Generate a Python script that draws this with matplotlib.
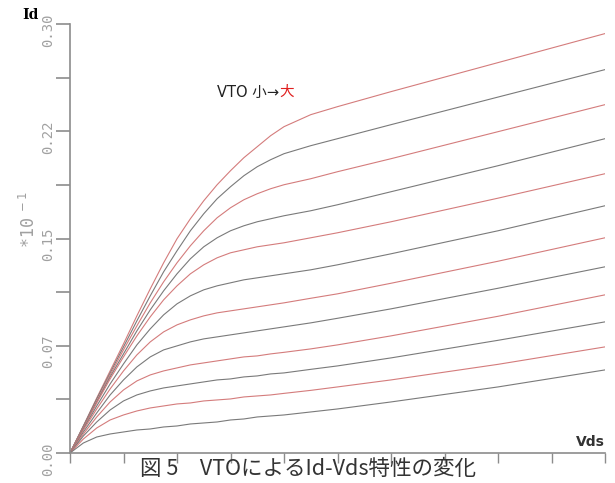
import matplotlib
matplotlib.use("Agg")
import matplotlib.pyplot as plt
from matplotlib.ticker import FixedLocator
from matplotlib.transforms import ScaledTranslation

# Vds sample points (axis has 10 tick intervals, no numbers shown)
vds = [0, 0.25, 0.5, 0.75, 1, 1.25, 1.5, 1.75, 2, 2.25, 2.5, 2.75,
       3, 3.25, 3.5, 3.75, 4, 4.5, 5, 6, 8, 10]

# Id curves in units of 10^-1 (as on the axis), VTO small -> large = top -> bottom
id_c1 = [0, 0.0189, 0.0385, 0.0574, 0.0763, 0.0959, 0.1148, 0.1330, 0.1498, 0.1638, 0.1764,
         0.1876, 0.1974, 0.2065, 0.2142, 0.2219, 0.2282, 0.2366, 0.2422, 0.2527, 0.2730, 0.2933]
id_c2 = [0, 0.0189, 0.0378, 0.0560, 0.0742, 0.0924, 0.1099, 0.1267, 0.1414, 0.1554, 0.1673,
         0.1778, 0.1862, 0.1939, 0.2002, 0.2051, 0.2093, 0.2149, 0.2198, 0.2296, 0.2489, 0.2681]
id_c3 = [0, 0.0182, 0.0364, 0.0546, 0.0721, 0.0889, 0.1050, 0.1197, 0.1330, 0.1449, 0.1554,
         0.1645, 0.1715, 0.1771, 0.1813, 0.1848, 0.1876, 0.1918, 0.1967, 0.2058, 0.2247, 0.2436]
id_c4 = [0, 0.0182, 0.0357, 0.0532, 0.0693, 0.0854, 0.1001, 0.1134, 0.1253, 0.1358, 0.1442,
         0.1505, 0.1554, 0.1589, 0.1617, 0.1638, 0.1659, 0.1694, 0.1736, 0.1827, 0.2009, 0.2198]
id_c5 = [0, 0.0175, 0.0350, 0.0518, 0.0672, 0.0819, 0.0952, 0.1071, 0.1169, 0.1253, 0.1316,
         0.1365, 0.1400, 0.1421, 0.1442, 0.1456, 0.1470, 0.1505, 0.1540, 0.1617, 0.1782, 0.1953]
id_c6 = [0, 0.0168, 0.0329, 0.0483, 0.0623, 0.0756, 0.0868, 0.0966, 0.1043, 0.1099, 0.1141,
         0.1169, 0.1190, 0.1211, 0.1225, 0.1239, 0.1253, 0.1281, 0.1316, 0.1393, 0.1554, 0.1729]
id_c7 = [0, 0.0161, 0.0308, 0.0448, 0.0574, 0.0686, 0.0777, 0.0847, 0.0896, 0.0931, 0.0959,
         0.0980, 0.0994, 0.1008, 0.1022, 0.1036, 0.1050, 0.1082, 0.1113, 0.1187, 0.1341, 0.1505]
id_c8 = [0, 0.0147, 0.0280, 0.0406, 0.0511, 0.0602, 0.0672, 0.0721, 0.0749, 0.0777, 0.0798,
         0.0812, 0.0826, 0.0840, 0.0854, 0.0868, 0.0882, 0.0910, 0.0942, 0.1008, 0.1152, 0.1302]
id_c9 = [0, 0.0133, 0.0252, 0.0357, 0.0441, 0.0504, 0.0546, 0.0574, 0.0595, 0.0616, 0.0630,
         0.0644, 0.0658, 0.0672, 0.0679, 0.0693, 0.0704, 0.0728, 0.0756, 0.0819, 0.0956, 0.1106]
id_c10 = [0, 0.0119, 0.0217, 0.0301, 0.0364, 0.0406, 0.0434, 0.0455, 0.0469, 0.0483, 0.0497,
          0.0511, 0.0518, 0.0532, 0.0539, 0.0553, 0.0560, 0.0585, 0.0609, 0.0665, 0.0788, 0.0917]
id_c11 = [0, 0.0098, 0.0175, 0.0231, 0.0266, 0.0294, 0.0315, 0.0329, 0.0343, 0.0350, 0.0364,
          0.0371, 0.0378, 0.0392, 0.0399, 0.0406, 0.0417, 0.0438, 0.0462, 0.0511, 0.0620, 0.0742]
id_c12 = [0, 0.0070, 0.0112, 0.0133, 0.0147, 0.0161, 0.0168, 0.0182, 0.0189, 0.0203, 0.0210,
          0.0217, 0.0231, 0.0238, 0.0252, 0.0259, 0.0266, 0.0287, 0.0308, 0.0357, 0.0462, 0.0581]
curves = [id_c1, id_c2, id_c3, id_c4, id_c5, id_c6, id_c7, id_c8, id_c9, id_c10, id_c11, id_c12]

y_ticks = [0.0, 0.075, 0.15, 0.225, 0.30]
y_tick_labels = ["0.00", "0.07", "0.15", "0.22", "0.30"]
y_minor = [0.0375, 0.1125, 0.1875, 0.2625]
x_ticks = list(range(0, 11))

RED = "#d47c7c"
GRAY = "#7a7a7a"
AXIS = "#8c8c8c"
LABEL = "#a0a0a0"

plt.rcParams["font.family"] = ["DejaVu Sans", "Noto Sans CJK JP"]

fig = plt.figure(figsize=(6.15, 4.83), dpi=100)
ax = fig.add_axes([70 / 615, 30 / 483, 535 / 615, 429 / 483])

for i, ys in enumerate(curves):
    ax.plot(vds, ys, color=RED if i % 2 == 0 else GRAY, lw=0.8)

ax.set_xlim(0, 10)
ax.set_ylim(0, 0.30)
for side in ("top", "right"):
    ax.spines[side].set_visible(False)
for side in ("left", "bottom"):
    ax.spines[side].set_color(AXIS)
    ax.spines[side].set_linewidth(1.2)

ax.yaxis.set_major_locator(FixedLocator(y_ticks))
ax.yaxis.set_minor_locator(FixedLocator(y_minor))
ax.set_yticklabels(y_tick_labels, rotation=90, va="center", family="DejaVu Sans Mono",
                   color=LABEL, fontsize=10)
ax.tick_params(axis="y", which="both", direction="out", length=10, width=1.2, color=AXIS, pad=1)
# labels sit slightly below their ticks in the original plot
shift = ScaledTranslation(0, -6 / 100, fig.dpi_scale_trans)
for lab in ax.get_yticklabels():
    lab.set_transform(lab.get_transform() + shift)

ax.set_xticks(x_ticks)
ax.set_xticklabels([])
ax.tick_params(axis="x", which="major", direction="out", length=7, width=1.0, color=AXIS)

fig.text(22 / 615, 1 - 15 / 483, "Id", fontsize=10, fontweight="bold", family="DejaVu Serif",
         ha="left", va="center")
fig.text(29 / 615, 1 - 220 / 483, "*10$^{\\ -1}$", rotation=90, color=LABEL, fontsize=12,
         family="DejaVu Sans Mono", ha="center", va="center")
fig.text(605 / 615, 1 - 442 / 483, "Vds", fontsize=10, fontweight="bold", color="#333333",
         ha="right", va="center")

t1 = fig.text(217 / 615, 1 - 92 / 483, "VTO 小→", fontsize=10.5, color="#222222",
              ha="left", va="center")
fig.canvas.draw()
bb = t1.get_window_extent()
fig.text(bb.x1 / (6.15 * 100), 1 - 92 / 483, "大", fontsize=10.5, color="#e02020",
         ha="left", va="center", family=["Noto Sans CJK JP"])

fig.text(140 / 615, 1 - 469 / 483, "図 5　VTOによるId-Vds特性の変化", fontsize=15.5,
         color="#333333", family=["Noto Sans CJK JP"], ha="left", va="center")

fig.savefig("out.png", dpi=100)
